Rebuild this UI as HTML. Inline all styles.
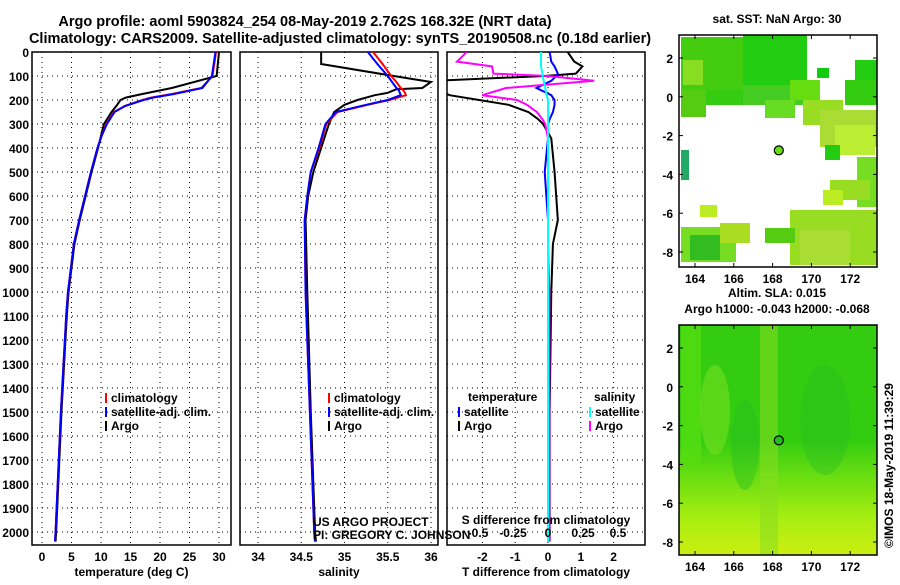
<!DOCTYPE html>
<html><head><meta charset="utf-8"><style>
body{margin:0;background:#fff;}
svg{font-family:"Liberation Sans",sans-serif;}
.t{font-size:14.5px;font-weight:bold}
.k{font-size:12px;font-weight:bold}
</style></head><body>
<svg id="c" width="900" height="580" xmlns="http://www.w3.org/2000/svg">
<text class="t" x="305" y="26" text-anchor="middle">Argo profile: aoml 5903824_254 08-May-2019 2.762S 168.32E (NRT data)</text>
<text class="t" x="340" y="43" text-anchor="middle">Climatology: CARS2009. Satellite-adjusted climatology: synTS_20190508.nc (0.18d earlier)</text>
<g id="g"></g>
</svg>
<script>
// ---- data ----
const tDepth=[0,100,150,175,190,200,225,250,300,350,400,500,600,700,800,900,1000,1100,1500,2000,2040];
const tClim=[29.5,28.9,27,22,18.5,17,14,12.2,10.9,10.1,9.4,8.3,7.3,6.3,5.4,4.9,4.4,4.1,3.2,2.3,2.2];
const tSat=[29.4,28.8,27.2,22.4,18.8,17.2,14.1,12.3,11,10.1,9.4,8.3,7.3,6.3,5.4,4.9,4.4,4.1,3.2,2.3,2.2];
const tArgo=[30,29.6,22,17,14.2,13.3,12.6,11.8,10.5,10,9.5,8.4,7.4,6.4,5.5,5.0,4.5,4.2,3.3,2.4,2.3];
const sDepth=[0,50,100,125,150,155,170,180,200,220,250,300,400,500,600,700,1000,1500,2000,2040];
const sClim=[35.33,35.44,35.54,35.6,35.65,35.67,35.7,35.71,35.52,35.27,34.92,34.79,34.71,34.61,34.57,34.54,34.55,34.6,34.65,34.66];
const sSat=[35.27,35.38,35.5,35.55,35.6,35.62,35.64,35.65,35.5,35.25,34.9,34.78,34.7,34.61,34.57,34.54,34.55,34.6,34.65,34.66];
const sArgo=[34.73,34.73,35.57,36.0,35.9,35.6,35.5,35.35,35.15,35.0,34.88,34.82,34.73,34.64,34.58,34.55,34.57,34.61,34.66,34.67];
const dDepth=[0,40,60,90,100,120,150,180,200,220,250,280,300,360,500,700,800,1000,1500,2000,2040];
const dTArgo=[0.6,0.8,1.05,0.85,-0.1,-3.5,-3.5,-3,-2.1,-1.2,-0.6,-0.3,-0.15,0.1,0.2,0.3,0.15,0.1,0.05,0.05,0.05];
const dTSat=[0.05,0.1,0.2,0.3,0.25,0.1,-0.35,0.1,0.2,0.2,0.15,0.05,0,0,-0.1,0,0,0,0,0,0];
const dSArgo=[-0.58,-0.65,-0.4,-0.39,0,0.33,-0.3,-0.47,-0.22,-0.15,-0.08,-0.04,-0.02,0,0,0,0,0.01,0.01,0.01,0.01];
const dSSat=[-0.05,-0.05,-0.05,-0.04,-0.04,-0.03,-0.02,-0.01,0,0,0,0,0,0,0,0,0,0,0,0,0];
const depthTicks=[0,100,200,300,400,500,600,700,800,900,1000,1100,1200,1300,1400,1500,1600,1700,1800,1900,2000];
const tTicks=[0,5,10,15,20,25,30];
const sTicks=[34,34.5,35,35.5,36];
const dTTicks=[-2,-1,0,1,2];
const dSTicks=[-0.5,-0.25,0,0.25,0.5];
const sTickLabels=["34","34.5","35","35.5","36"];
const dSTickLabels=["-0.5","-0.25","0","0.25","0.5"];
// ---- scales ----
const Y=d=>52+d*0.24, TOP=52, BOT=545;
const xT=v=>42+v*5.9, xS=v=>258+(v-34)*86.5, xD=v=>548+v*32.8, xDS=v=>548+v*140;
const NS="http://www.w3.org/2000/svg", G=document.getElementById('g');
function el(tag,at,parent){const e=document.createElementNS(NS,tag);for(const k in at)e.setAttribute(k,at[k]);(parent||G).appendChild(e);return e;}
const defs=el('defs',{});
function panel(id,x0,x1,xf,ticks,labels,title,ylabels){
  const cp=el('clipPath',{id:'cp'+id},defs);el('rect',{x:x0,y:TOP,width:x1-x0,height:BOT-TOP},cp);
  const g=el('g',{});
  
  
  depthTicks.forEach(d=>{el('line',{x1:x0,x2:x1,y1:Y(d),y2:Y(d),stroke:'#000','stroke-dasharray':'1 4','stroke-width':1},g);});
  ticks.forEach((v,i)=>{const x=xf(v);el('line',{x1:x,x2:x,y1:TOP,y2:BOT,stroke:'#000','stroke-dasharray':'1 4'},g);
    const t=el('text',{x:x,y:561,'text-anchor':'middle',class:'k'},g);t.textContent=labels[i];});
  el('rect',{x:x0,y:TOP,width:x1-x0,height:BOT-TOP,fill:'none',stroke:'#000','stroke-width':1.5},g);
  const tt=el('text',{x:(x0+x1)/2,y:576,'text-anchor':'middle',class:'k'},g);tt.textContent=title;
  
  
  if(ylabels)depthTicks.forEach(d=>{const t=el('text',{x:29,y:Y(d)+5,'text-anchor':'end',class:'k'},g);t.textContent=d;});
  return g;
}
function line(g,id,xs,ds,xf,col,w){
  return el('polyline',{points:xs.map((v,i)=>xf(v)+','+Y(ds[i])).join(' '),fill:'none',stroke:col,'stroke-width':w,'clip-path':'url(#cp'+id+')'},g);
}
function txt(g,x,y,s,cls,anchor){const t=el('text',{x:x,y:y,class:cls||'k','text-anchor':anchor||'start'},g);t.textContent=s;return t;}
function leg(g,x,y,col,label){el('line',{x1:x,x2:x,y1:y-9,y2:y+1,stroke:col,'stroke-width':2},g);const t=txt(g,x+5,y,label);}
// temperature panel
let g1=panel('temp',32,231,xT,tTicks,tTicks.map(String),'temperature (deg C)',true);
let p;
p=line(g1,'temp',tArgo,tDepth,xT,'#000',2);
p=line(g1,'temp',tClim,tDepth,xT,'#f00',2);
p=line(g1,'temp',tSat,tDepth,xT,'#00f',2);
leg(g1,106,402,'#f00','climatology');leg(g1,106,416,'#00f','satellite-adj. clim.');leg(g1,106,430,'#000','Argo');
// salinity panel
let g2=panel('sal',240,438,xS,sTicks,sTickLabels,'salinity',false);
p=line(g2,'sal',sArgo,sDepth,xS,'#000',2);
p=line(g2,'sal',sClim,sDepth,xS,'#f00',2);
p=line(g2,'sal',sSat,sDepth,xS,'#00f',2);
leg(g2,329,402,'#f00','climatology');leg(g2,329,416,'#00f','satellite-adj. clim.');leg(g2,329,430,'#000','Argo');
txt(g2,313,526,'US ARGO PROJECT','k').setAttribute('font-weight','normal');
txt(g2,313,539,'PI: GREGORY C. JOHNSON','k').setAttribute('font-weight','normal');
// diff panel
let g3=panel('diff',447,645,xD,dTTicks,dTTicks.map(String),'T difference from climatology',false);
p=line(g3,'diff',dTArgo,dDepth,xD,'#000',2);
p=line(g3,'diff',dTSat,dDepth,xD,'#00f',2);
p=line(g3,'diff',dSArgo,dDepth,xDS,'#f0f',2);
p=line(g3,'diff',dSSat,dDepth,xDS,'#0ff',2);
dSTicks.forEach((v,i)=>txt(g3,xDS(v),537,dSTickLabels[i],'k','middle'));
txt(g3,546,524,'S difference from climatology','k','middle');
txt(g3,468,401,'temperature');txt(g3,594,401,'salinity');
leg(g3,459,416,'#00f','satellite');leg(g3,459,430,'#000','Argo');
leg(g3,590,416,'#0ff','satellite');leg(g3,590,430,'#f0f','Argo');
// maps
const lonTicks=[164,166,168,170,172], latTicks=[2,0,-2,-4,-6,-8];
const mX=v=>695+(v-164)*19.4;
function mapFrame(id){const g=el('g',{});
  
  
  return g;}
function mapAxes(g,y0,y1,latY){
  el('rect',{x:679,y:y0,width:198,height:y1-y0,fill:'none',stroke:'#000','stroke-width':1.5},g);
  lonTicks.forEach(v=>{txt(g,mX(v),y1+16,String(v),'k','middle');el('line',{x1:mX(v),x2:mX(v),y1:y1,y2:y1-4,stroke:'#000'},g);el('line',{x1:mX(v),x2:mX(v),y1:y0,y2:y0+4,stroke:'#000'},g);});
  latTicks.forEach(v=>{txt(g,673,latY(v)+5,String(v),'k','end');el('line',{x1:679,x2:683,y1:latY(v),y2:latY(v),stroke:'#000'},g);el('line',{x1:873,x2:877,y1:latY(v),y2:latY(v),stroke:'#000'},g);});
}
// top map
const laT=v=>58-(v-2)*19.4;
let m1=mapFrame('sst-map');
txt(m1,777,23,'sat. SST: NaN Argo: 30','k','middle');
const blocks=[[681,37,62,60,'#4c1'],[681,90,25,27,'#5c1'],[706,90,37,15,'#3c1'],[683,60,20,25,'#8d2'],[743,35,64,50,'#2c1'],[743,85,60,20,'#4c2'],[765,100,30,18,'#6d2'],[790,80,30,20,'#6d1'],[803,100,40,25,'#9d2'],[820,110,57,37,'#ad3'],[835,125,40,30,'#be3'],[845,80,32,25,'#3c1'],[855,60,22,20,'#2c1'],[857,157,20,50,'#7d2'],[830,180,40,20,'#9d2'],[823,190,20,15,'#be2'],[790,210,87,55,'#9d2'],[800,230,50,35,'#ad3'],[765,228,30,15,'#5c1'],[681,227,55,35,'#7d2'],[690,235,30,25,'#3b2'],[720,223,30,20,'#ad2'],[700,205,17,12,'#be2'],[681,150,8,30,'#2a6'],[825,145,15,15,'#2c1'],[817,68,12,10,'#1c1']];
blocks.forEach(b=>el('rect',{x:b[0],y:b[1],width:b[2],height:b[3],fill:b[4]},m1));
el('circle',{cx:mX(168.32),cy:laT(-2.762),r:4.5,fill:'#6d1',stroke:'#000','stroke-width':1.2},m1);
mapAxes(m1,35,267,laT);
// bottom map
const laB=v=>348-(v-2)*19.4;
let m2=mapFrame('sla-map');
txt(m2,777,297,'Altim. SLA: 0.015','k','middle');
txt(m2,777,313,'Argo h1000: -0.043 h2000: -0.068','k','middle');
const gr=el('linearGradient',{id:'lg',x1:0,y1:0,x2:0,y2:1},defs);
[[0,'#3c1'],[0.5,'#3c1'],[0.65,'#6d1'],[0.85,'#ae1'],[1,'#ce1']].forEach(s=>el('stop',{offset:s[0],'stop-color':s[1]},gr));
el('rect',{x:679,y:325,width:198,height:230,fill:'url(#lg)'},m2);
el('rect',{x:681,y:325,width:20,height:140,fill:'#5d1',opacity:0.8},m2);
el('rect',{x:760,y:325,width:18,height:230,fill:'#8d2',opacity:0.55},m2);
el('ellipse',{cx:715,cy:410,rx:15,ry:45,fill:'#7d2',opacity:0.6},m2);
el('ellipse',{cx:745,cy:445,rx:14,ry:45,fill:'#2b2',opacity:0.4},m2);
el('ellipse',{cx:825,cy:420,rx:25,ry:55,fill:'#2b2',opacity:0.35},m2);
mapAxes(m2,325,555,laB);
el('circle',{cx:mX(168.32),cy:laB(-2.762),r:4.5,fill:'#2b2',stroke:'#000','stroke-width':1.2},m2);
const st=el('text',{x:0,y:0,transform:'translate(893,548) rotate(-90)',class:'k','font-weight':'normal','font-size':'12.5px'});
st.textContent='©IMOS 18-May-2019 11:39:29';


</script>
</body></html>
